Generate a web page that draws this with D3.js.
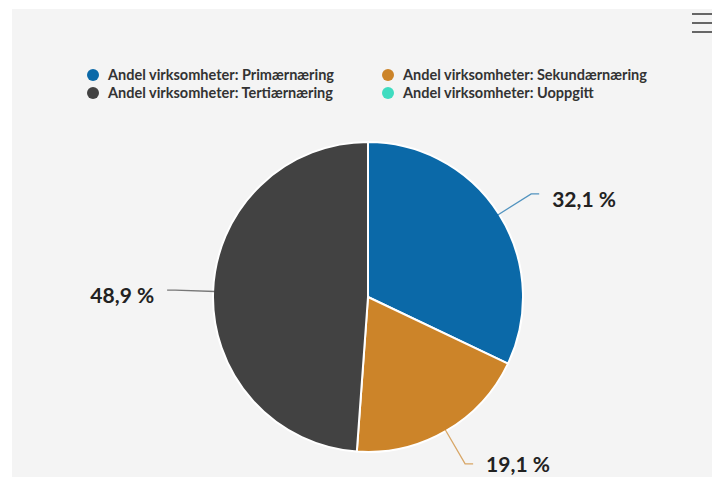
<!DOCTYPE html>
<html>
<head>
<meta charset="utf-8">
<script src="https://cdn.jsdelivr.net/npm/d3@7"></script>
<style>
  html, body { margin: 0; padding: 0; background: #ffffff; }
  svg { display: block; }
</style>
</head>
<body>
<svg id="chart" width="712" height="477"></svg>
<script>
const categories = [
  "Andel virksomheter: Primærnæring",
  "Andel virksomheter: Sekundærnæring",
  "Andel virksomheter: Tertiærnæring",
  "Andel virksomheter: Uoppgitt"
];
const values = [32.1, 19.1, 48.9, 0];
const colors = ["#0b69a8", "#cc8429", "#424242", "#3fdcc0"];
const legendOrder = [0, 1, 2, 3];

const W = 712, H = 477;
const svg = d3.select("#chart");
const font = "'Source Sans Pro', Lato, 'Noto Sans', sans-serif";

// panel background
svg.append("rect").attr("x", 12).attr("y", 9).attr("width", W - 12).attr("height", H - 9).attr("fill", "#f4f4f4");

// hamburger menu
[14, 23, 32].forEach(y => {
  svg.append("line").attr("x1", 692).attr("x2", 712).attr("y1", y).attr("y2", y)
    .attr("stroke", "#666").attr("stroke-width", 2);
});

// legend
const leg = svg.append("g");
const legPos = [[93, 75], [388, 75], [93, 93], [388, 93]];
legendOrder.forEach((i, k) => {
  const [x, y] = legPos[k];
  leg.append("circle").attr("cx", x).attr("cy", y).attr("r", 6).attr("fill", colors[i]);
  leg.append("text").attr("x", x + 15).attr("y", y + 5)
    .attr("font-family", font).attr("font-size", 14.5).attr("font-weight", 700)
    .attr("fill", "#333").text(categories[i]);
});

// pie
const cx = 368, cy = 297, r = 155;
const pie = d3.pie().sort(null).value(d => d.v);
const data = pie(values.map((v, i) => ({ v, i })));
const arc = d3.arc().innerRadius(0).outerRadius(r);
const g = svg.append("g").attr("transform", `translate(${cx},${cy})`);
g.selectAll("path").data(data.filter(d => d.data.v > 0)).join("path")
  .attr("d", arc)
  .attr("fill", d => colors[d.data.i])
  .attr("stroke", "#ffffff").attr("stroke-width", 2).attr("stroke-linejoin", "round");

// data labels
const fmt = v => d3.format(".1f")(v).replace(".", ",") + " %";
data.filter(d => d.data.v > 0).forEach(d => {
  const a = (d.startAngle + d.endAngle) / 2;
  const right = Math.sin(a) >= 0;
  const p0 = [Math.sin(a) * (r - 2), -Math.cos(a) * (r - 2)];
  const p1 = [Math.sin(a) * (r + 38), -Math.cos(a) * (r + 38)];
  const p2 = [p1[0] + (right ? 8 : -8), p1[1]];
  g.append("path").attr("d", d3.line()([p0, p1, p2]))
    .attr("fill", "none")
    .attr("stroke", colors[d.data.i]).attr("stroke-opacity", 0.7).attr("stroke-width", 1.3);
  const ty = Math.min(p2[1] + 6, H - cy - 12);
  g.append("text")
    .attr("x", p2[0] + (right ? 13 : -13)).attr("y", ty)
    .attr("dy", "0.35em")
    .attr("text-anchor", right ? "start" : "end")
    .attr("font-family", font).attr("font-size", 21).attr("font-weight", 700)
    .attr("fill", "#222").text(fmt(d.data.v));
});
</script>
</body>
</html>
